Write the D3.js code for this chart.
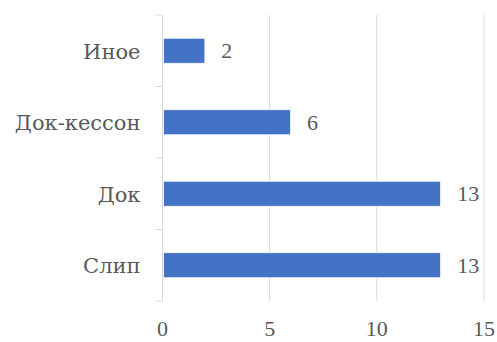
<!DOCTYPE html>
<html>
<head>
<meta charset="utf-8">
<script src="https://cdn.jsdelivr.net/npm/d3@7"></script>
<style>
  html, body { margin: 0; padding: 0; background: #fff; }
</style>
</head>
<body>
<svg id="chart" width="497" height="342"></svg>
<script>
// Categories from top to bottom, with their counts
const categories = ["Иное", "Док-кессон", "Док", "Слип"];
const counts = [2, 6, 13, 13];
const xTicks = [0, 5, 10, 15];

const catFont = "'DejaVu Serif', 'Liberation Serif', serif";
const numFont = "'Liberation Serif', 'Times New Roman', serif";
const textColor = "#595959";

const svg = d3.select("#chart");
const margin = { top: 15, right: 13, bottom: 41, left: 162.5 };
const width = 497 - margin.left - margin.right;
const height = 342 - margin.top - margin.bottom;

const g = svg.append("g").attr("transform", `translate(${margin.left},${margin.top})`);

const x = d3.scaleLinear().domain([0, 15]).range([0, width]);
const y = d3.scaleBand().domain(categories).range([0, height]).paddingInner(0.65).paddingOuter(0.325);

const gridColor = "#d9d9d9";

// Vertical gridlines
g.selectAll(".grid")
  .data(xTicks.filter(t => t > 0))
  .join("line")
  .attr("x1", d => x(d)).attr("x2", d => x(d))
  .attr("y1", 0).attr("y2", height)
  .attr("stroke", gridColor).attr("stroke-width", 1);

// Category axis with outward ticks at band boundaries
g.append("line")
  .attr("x1", 0).attr("x2", 0).attr("y1", 0).attr("y2", height)
  .attr("stroke", gridColor);
const step = y.step();
g.selectAll(".cattick")
  .data(d3.range(categories.length + 1))
  .join("line")
  .attr("x1", -7).attr("x2", 0)
  .attr("y1", i => i * step).attr("y2", i => i * step)
  .attr("stroke", gridColor);

// Bars
g.selectAll(".bar")
  .data(categories)
  .join("rect")
  .attr("x", x(0) + 1)
  .attr("y", d => y(d))
  .attr("width", (d, i) => x(counts[i]) - x(0) - 1.5)
  .attr("height", y.bandwidth())
  .attr("fill", "#4472C4")
  .attr("stroke", "#ffffff").attr("stroke-width", 0.75);

// Value labels
g.selectAll(".val")
  .data(categories)
  .join("text")
  .attr("x", (d, i) => x(counts[i]) + 16)
  .attr("y", d => y(d) + y.bandwidth() / 2)
  .attr("dy", "0.35em")
  .attr("font-family", numFont)
  .attr("font-size", 22)
  .attr("fill", textColor)
  .text((d, i) => counts[i]);

// Category labels
g.selectAll(".cat")
  .data(categories)
  .join("text")
  .attr("x", -22)
  .attr("y", d => y(d) + y.bandwidth() / 2)
  .attr("dy", "0.38em")
  .attr("text-anchor", "end")
  .attr("font-family", catFont)
  .attr("font-size", 21)
  .attr("fill", textColor)
  .text(d => d);

// X tick labels
g.selectAll(".xt")
  .data(xTicks)
  .join("text")
  .attr("x", d => x(d))
  .attr("y", height + 35)
  .attr("text-anchor", "middle")
  .attr("font-family", numFont)
  .attr("font-size", 22)
  .attr("fill", textColor)
  .text(d => d);
</script>
</body>
</html>
